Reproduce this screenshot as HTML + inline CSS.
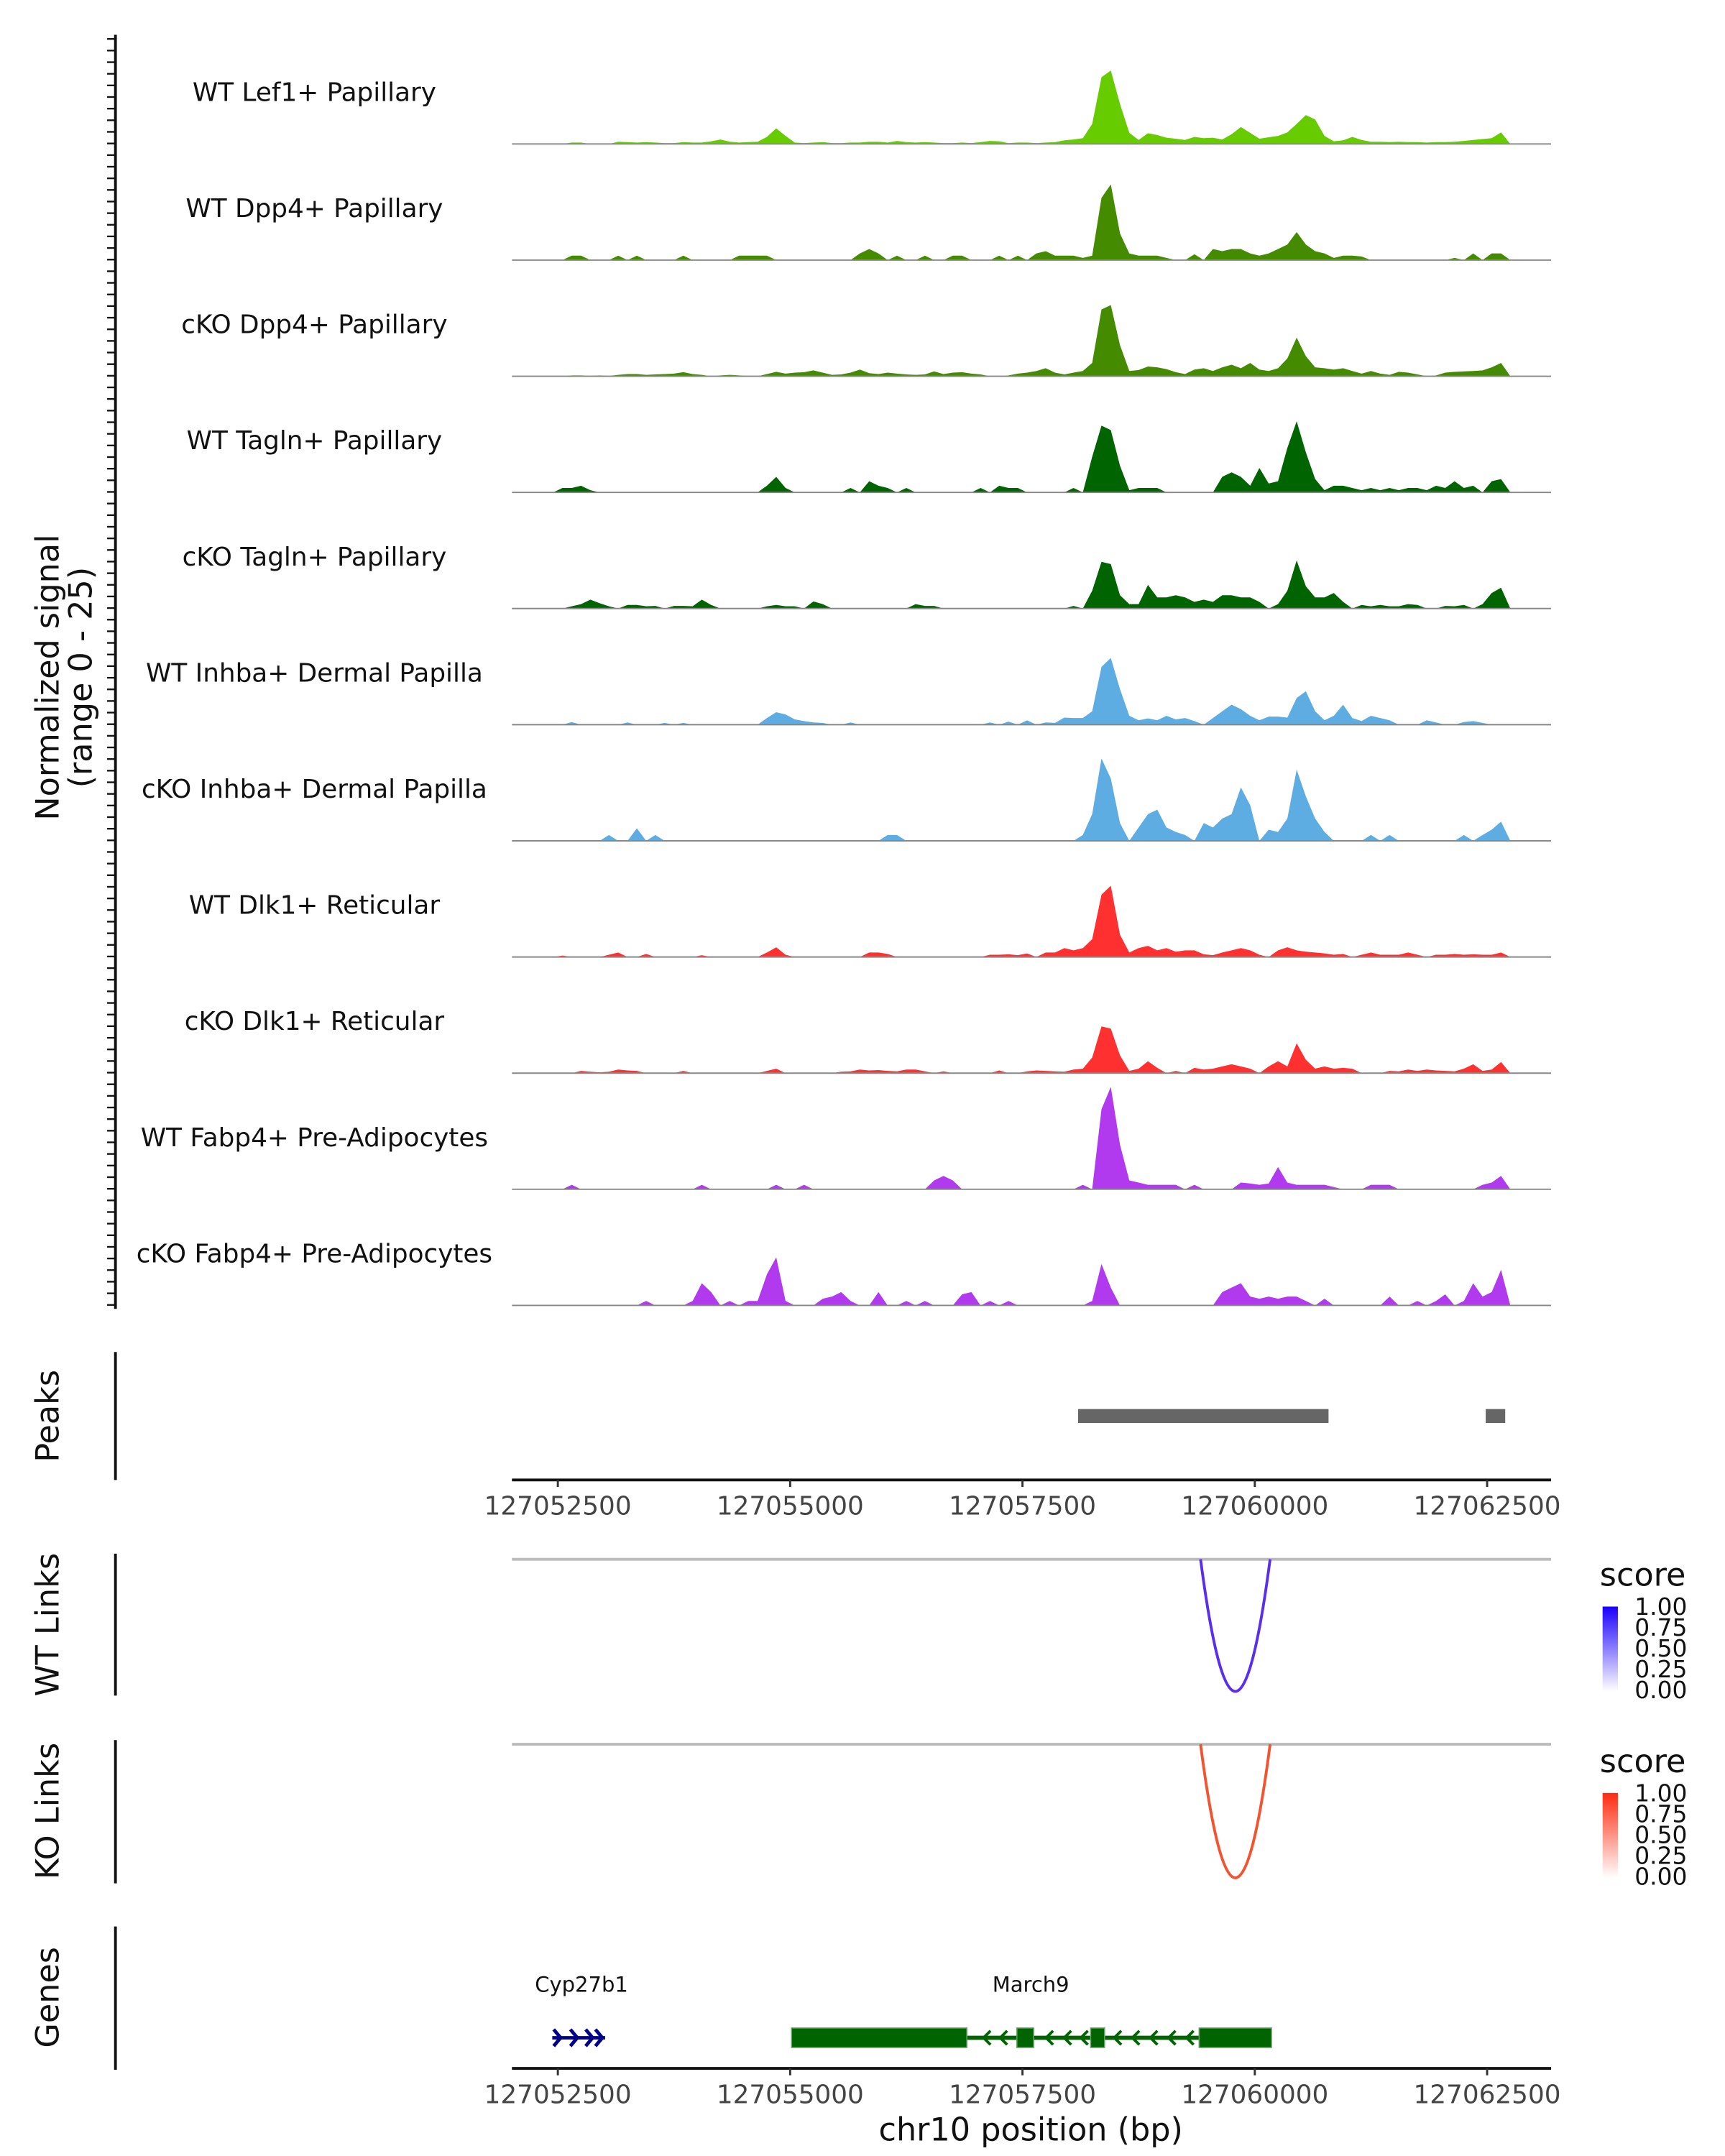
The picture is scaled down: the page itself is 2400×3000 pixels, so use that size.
<!DOCTYPE html>
<html><head><meta charset="utf-8">
<style>
html,body{margin:0;padding:0;background:#fff;}
svg{display:block;font-family:"DejaVu Sans","Liberation Sans",sans-serif;}
</style></head>
<body>
<svg id="chart" width="2400" height="3000" viewBox="0 0 1240 1550" xmlns="http://www.w3.org/2000/svg">
<g id="tracks"></g>
<line x1="83" y1="25" x2="83" y2="941" stroke="#111" stroke-width="2"/>
<g id="yticks"></g>
<text transform="translate(42,487) rotate(-90)" text-anchor="middle" font-size="23" fill="#111">Normalized signal</text>
<text transform="translate(66,487) rotate(-90)" text-anchor="middle" font-size="23" fill="#111">(range 0 - 25)</text>

<!-- Peaks -->
<line x1="83" y1="972" x2="83" y2="1064" stroke="#111" stroke-width="2"/>
<text transform="translate(42,1018) rotate(-90)" text-anchor="middle" font-size="23" fill="#111">Peaks</text>
<rect x="775" y="1013" width="180" height="10" fill="#666"/>
<rect x="1068" y="1013" width="14" height="10" fill="#666"/>
<g id="axis1"></g>

<!-- WT links -->
<line x1="83" y1="1117" x2="83" y2="1219" stroke="#111" stroke-width="2"/>
<text transform="translate(42,1168) rotate(-90)" text-anchor="middle" font-size="23" fill="#111">WT Links</text>
<line x1="368" y1="1121" x2="1115" y2="1121" stroke="#bbb" stroke-width="2"/>
<path d="M863,1121 Q888,1311 913,1121" fill="none" stroke="#5a2ef0" stroke-width="2"/>
<defs>
<linearGradient id="gb" x1="0" y1="1" x2="0" y2="0"><stop offset="0" stop-color="#fff"/><stop offset="1" stop-color="#1a00ff"/></linearGradient>
<linearGradient id="gr" x1="0" y1="1" x2="0" y2="0"><stop offset="0" stop-color="#fff"/><stop offset="1" stop-color="#ff2a10"/></linearGradient>
</defs>
<g>
<text x="1150" y="1140" font-size="23" fill="#111">score</text>
<rect x="1152" y="1155" width="11" height="61" fill="url(#gb)"/>
<text x="1175" y="1161" font-size="17" fill="#111">1.00</text>
<text x="1175" y="1176" font-size="17" fill="#111">0.75</text>
<text x="1175" y="1191" font-size="17" fill="#111">0.50</text>
<text x="1175" y="1206" font-size="17" fill="#111">0.25</text>
<text x="1175" y="1221" font-size="17" fill="#111">0.00</text>
</g>

<!-- KO links -->
<line x1="83" y1="1251" x2="83" y2="1354" stroke="#111" stroke-width="2"/>
<text transform="translate(42,1302) rotate(-90)" text-anchor="middle" font-size="23" fill="#111">KO Links</text>
<line x1="368" y1="1254" x2="1115" y2="1254" stroke="#bbb" stroke-width="2"/>
<path d="M863,1254 Q888,1446 913,1254" fill="none" stroke="#f4532f" stroke-width="2"/>
<g>
<text x="1150" y="1274" font-size="23" fill="#111">score</text>
<rect x="1152" y="1289" width="11" height="61" fill="url(#gr)"/>
<text x="1175" y="1295" font-size="17" fill="#111">1.00</text>
<text x="1175" y="1310" font-size="17" fill="#111">0.75</text>
<text x="1175" y="1325" font-size="17" fill="#111">0.50</text>
<text x="1175" y="1340" font-size="17" fill="#111">0.25</text>
<text x="1175" y="1355" font-size="17" fill="#111">0.00</text>
</g>

<!-- Genes -->
<line x1="83" y1="1385" x2="83" y2="1488" stroke="#111" stroke-width="2"/>
<text transform="translate(42,1436) rotate(-90)" text-anchor="middle" font-size="23" fill="#111">Genes</text>
<text x="418" y="1432" text-anchor="middle" font-size="15" fill="#111">Cyp27b1</text>
<text x="741" y="1432" text-anchor="middle" font-size="15" fill="#111">March9</text>
<g stroke="#00008b" stroke-width="2.5" fill="none">
<line x1="397" y1="1465" x2="435" y2="1465"/>
<path d="M398,1459 L403,1465 L398,1471 M410,1459 L415,1465 L410,1471 M421,1459 L426,1465 L421,1471 M428,1459 L433,1465 L428,1471"/>
</g>
<g>
<line x1="695" y1="1465" x2="862" y2="1465" stroke="#006400" stroke-width="3"/>
<g fill="#006400" stroke="#5fa05f" stroke-width="0.8">
<rect x="569" y="1458" width="126" height="14"/>
<rect x="731" y="1458" width="12" height="14"/>
<rect x="784" y="1458" width="10" height="14"/>
<rect x="862" y="1458" width="52" height="14"/>
</g>
<path d="M712,1460 L707,1465 L712,1470 M724,1460 L719,1465 L724,1470 M757,1460 L752,1465 L757,1470 M770,1460 L765,1465 L770,1470 M782,1460 L777,1465 L782,1470 M806,1460 L801,1465 L806,1470 M819,1460 L814,1465 L819,1470 M832,1460 L827,1465 L832,1470 M845,1460 L840,1465 L845,1470 M858,1460 L853,1465 L858,1470" fill="none" stroke="#006400" stroke-width="2"/>
</g>
<g id="axis2"></g>
<text x="741" y="1539" text-anchor="middle" font-size="23" fill="#111">chr10 position (bp)</text>
</svg>
<script>
const NS='http://www.w3.org/2000/svg';
const trackNames=["WT Lef1+ Papillary","WT Dpp4+ Papillary","cKO Dpp4+ Papillary","WT Tagln+ Papillary","cKO Tagln+ Papillary","WT Inhba+ Dermal Papilla","cKO Inhba+ Dermal Papilla","WT Dlk1+ Reticular","cKO Dlk1+ Reticular","WT Fabp4+ Pre-Adipocytes","cKO Fabp4+ Pre-Adipocytes"];
const trackColors=["#66cc00","#458b00","#458b00","#006400","#006400","#5dade2","#5dade2","#ff3030","#ff3030","#b23aee","#b23aee"];
const binStart=127052400, binSize=100;
const xTicks=[127052500,127055000,127057500,127060000,127062500];
const wtLef1=[0,0,0.3,0.3,0,0,0,0.5,0.4,0.3, 0.4,0.3,0.2,0.2,0.4,0.3,0.3,0.6,1.0,0.5, 0.3,0.4,0.5,1.6,3.5,1.8,0.3,0.2,0.3,0.4, 0.2,0.2,0.3,0.3,0.5,0.5,0.3,0.7,0.4,0.3, 0.4,0.3,0.2,0.2,0.3,0.2,0.4,0.7,0.6,0.2, 0.3,0.3,0.2,0.3,0.4,0.8,1.0,1.3,4.5,15.0, 16.5,9.0,2.5,0.9,2.4,2.0,1.4,1.2,0.9,1.6, 1.3,1.4,1.0,2.2,3.8,2.5,1.2,1.5,1.8,2.6, 4.5,6.5,5.5,1.8,0.6,0.8,1.6,0.9,0.5,0.5, 0.4,0.5,0.4,0.4,0.3,0.4,0.4,0.5,0.7,0.9, 1.1,1.3,2.6,0];
const wtDpp4=[0,0,1,1,0,0,0,1,0,1, 0,0,0,0,1,0,0,0,0,0, 1,1,1,1,0,0,0,0,0,0, 0,0,0,1.5,2.5,1.5,0,1,0,0, 1,0,0,1,1,0,0,0,1,0, 1,0,1.5,2,1,1,1,0.5,1,14, 17,6,1.5,1,1,1,0.5,0,0,1.3, 0,2.5,2,2.5,2.5,1.5,1,1.5,2.5,3.5, 6.3,3.5,2,1.5,0.5,1,1,0.8,0,0, 0,0,0,0,0,0,0,0.5,0,1.5, 0,1.5,1.5,0];
const koDpp4=[0,0,0.2,0.2,0.1,0.2,0.1,0.3,0.5,0.5, 0.3,0.4,0.5,0.6,0.9,0.5,0.3,0,0.2,0.3, 0.2,0.1,0,0.5,1,0.6,0.8,0.9,1.3,0.8, 0.3,0.4,0.8,1.5,0.7,0.5,0.8,0.6,0.4,0.3, 0.4,1.1,0.5,0.8,0.9,0.6,0.4,0,0,0.2, 0.6,0.8,1.2,1.8,0.8,0.4,0.8,1.2,3,15, 16,7,1.2,1.4,2.2,2,1.6,0.9,0.5,1.5, 1.8,1.2,2,2.6,1.8,3,1.5,1.2,1.8,4, 8.7,4.5,2,1.8,1.5,1.8,1.2,0.6,1.2,0.6, 0.3,1,0.8,0.4,0,0.2,0.8,1,1.1,1.2, 1.3,2,3,0];
const wtTagln=[0,1,1,1.5,0.5,0,0,0,0,0, 0,0,0,0,0,0,0,0,0,0, 0,0,0,1.5,3.5,1,0,0,0,0, 0,0,1,0,2.5,1.5,1,0,1,0, 0,0,0,0,0,0,1,0,1.5,1, 1,0,0,0,0,0,1,0,8,15, 14,6,0.5,1,1,1,0,0,0,0, 0,0,3.5,4.5,3.5,1.5,5.5,2,2.5,10, 16,9,3,0.5,1.5,1.5,1,0.5,1,0.5, 1,0.5,1,1,0.5,1.5,1,2.5,1,1.5, 0,2.5,3,0];
const koTagln=[0,0,0.5,1,2,1.2,0.5,0,0.8,0.8, 0.5,0.6,0,0.6,0.6,0.5,2,0.8,0,0, 0,0,0,0.5,0.8,0.5,0.5,0,1.6,1, 0,0,0,0,0,0,0,0,0,1, 0.6,0.6,0,0,0,0,0,0,0,0, 0,0,0,0,0,0,0.6,0,4,10.5, 10,3,1,1,5.3,2.5,2.5,3,2.5,1.5, 2,1.5,3,3,2.5,2.5,1.5,0,1,4, 10.8,5,2.5,2.5,3.5,1.5,0,0.8,0.5,0.8, 0.5,0.5,1,0.8,0,0,0.6,0.5,0.8,0, 1,3.5,4.7,0];
const wtInhba=[0,0,0.6,0,0,0,0,0,0.5,0, 0,0,0.4,0,0.4,0,0,0,0,0, 0,0,0,1.5,2.8,2.3,1.2,0.8,0.5,0.4, 0,0,0.5,0,0,0,0,0,0,0, 0,0,0,0,0,0,0,0.5,0,0.7, 0,1,0,0.5,0.4,1.6,1.5,1.5,3,13, 15,8,2,1,1.4,1,2,1.2,1.5,0.8, 0,1.5,3,4.5,3.5,2,1,1.8,1.8,1.6, 6,7.5,3,1,2,4.5,1.5,0.8,2,1.5, 1,0,0,0,1,0.5,0,0,0.6,0.8, 0.4,0,0,0];
const koInhba=[0,0,0,0,0,0,1.3,0,0,2.8, 0,1.3,0,0,0,0,0,0,0,0, 0,0,0,0,0,0,0,0,0,0, 0,0,0,0,0,0,1.3,1.3,0,0, 0,0,0,0,0,0,0,0,0,0, 0,0,0,0,0,0,0,1.3,6,18.5, 14,4,0,3,6,7,3,2,1.3,0, 4,3,5,6,12,8,0,2.5,2,5, 16,10,5,2,0,0,0,0,1.3,0, 1.3,0,0,0,0,0,0,0,1.3,0, 1.3,2.5,4.3,0];
const wtDlk1=[0,0.3,0,0,0,0,0.5,1,0,0, 0.7,0,0,0,0,0,0.4,0,0,0, 0,0,0,1,2.2,0.5,0,0,0,0, 0,0,0,0,1,1,0.7,0,0,0, 0,0,0,0,0,0,0,0.5,0.5,0.6, 0.4,0.8,0,1,1,2,1.5,2,4,14, 16,5,1,2,2.5,1.5,2,1.2,1.5,1.5, 0.6,0.4,1,1.5,2,1.5,0.5,0,1.5,2.2, 1.5,1.2,1,0.8,0.5,0.7,0,0.5,1,0.5, 0.5,0.5,1,0.5,0,0.5,0.5,0.7,0.5,0.6, 0.5,0.5,1,0];
const koDlk1=[0,0,0,0.5,0.3,0.2,0.3,0.8,0.6,0.5, 0,0,0,0,0.5,0,0,0,0,0, 0,0,0,0.5,1,0,0,0,0,0, 0,0.3,0.4,0.8,0.6,0.7,0.5,0.4,0.8,0.8, 0.4,0,0.4,0,0,0,0,0,0.6,0, 0,0.4,0.6,0.5,0.4,0.3,0.8,1,3.5,10.5, 10,4,0.5,1,2.7,1.2,0,0.5,0,1.2, 0.8,1,1.5,2,1.5,1,0,1.5,2.7,1.5, 6.7,3,1,1.5,1,1.2,1,0,0,0, 0.5,0.4,0.8,0.5,0.8,0.6,0.5,0.4,1,2, 0.5,0.8,2.5,0];
const wtFabp4=[0,0,1,0,0,0,0,0,0,0, 0,0,0,0,0,0,1,0,0,0, 0,0,0,0,1,0,0,1,0,0, 0,0,0,0,0,0,0,0,0,0, 0,2,3,2,0,0,0,0,0,0, 0,0,0,0,0,0,0,1,0,18, 23,10,2,1.5,1,1,1,1,0,1, 0,0,0,0,1.5,1.3,1,1.3,5,1.5, 1,1,1,1,0.5,0,0,0,1,1, 1,0,0,0,0,0,0,0,0,0, 1,1.5,3,0];
const koFabp4=[0,0,0,0,0,0,0,0,0,0, 1,0,0,0,0,1,5,3,0,1, 0,1,1,7,10.8,1,0,0,0,1.5, 2,3,1,0,0,3,0,0,1,0, 1,0,0,0,2.5,3,0,1,0,1, 0,0,0,0,0,0,0,0,1,9.3, 4,0,0,0,0,0,0,0,0,0, 0,0,3,4,5,2,1.5,2,1.5,2, 2,1,0,1.5,0,0,0,0,0,0, 2,0,0,1,0,1,2.5,0,1,5, 2,3,8,0];
const trackValues=[wtLef1,wtDpp4,koDpp4,wtTagln,koTagln,wtInhba,koInhba,wtDlk1,koDlk1,wtFabp4,koFabp4];

function xs(bp){return 401+(bp-127052500)*167/2500;}
const trackTop=20, trackH=83.5, unitPx=3.2;
function baseY(t){return trackTop+trackH*(t+1);}
function ys(t,v){return baseY(t)-Math.min(v,25)*unitPx;}

const tg=document.getElementById('tracks');
for(let t=0;t<trackValues.length;t++){
  const vals=trackValues[t], b=baseY(t);
  const g=document.createElementNS(NS,'g');
  
  
  let d='M'+xs(binStart).toFixed(1)+','+b;
  for(let i=0;i<vals.length;i++){
    const cx=xs(binStart+binSize*i+binSize/2);
    d+=' L'+cx.toFixed(1)+','+ys(t,vals[i]).toFixed(1);
  }
  d+=' L'+xs(binStart+binSize*vals.length).toFixed(1)+','+b+' Z';
  const p=document.createElementNS(NS,'path');
  p.setAttribute('d',d);p.setAttribute('fill',trackColors[t]);
  
  
  g.appendChild(p);
  const ln=document.createElementNS(NS,'line');
  ln.setAttribute('x1',368);ln.setAttribute('x2',1115);ln.setAttribute('y1',b);ln.setAttribute('y2',b);
  ln.setAttribute('stroke','#888');ln.setAttribute('stroke-width','1');
  
  
  g.appendChild(ln);
  const tx=document.createElementNS(NS,'text');
  tx.setAttribute('x',226);tx.setAttribute('y',b-31);tx.setAttribute('text-anchor','middle');
  tx.setAttribute('font-size','18.5');tx.setAttribute('fill','#111');
  
  
  tx.textContent=trackNames[t];
  g.appendChild(tx);
  tg.appendChild(g);
}
const yt=document.getElementById('yticks');
for(let y=28;y<=940;y+=8.35){
  const l=document.createElementNS(NS,'line');
  l.setAttribute('x1',77);l.setAttribute('x2',83);l.setAttribute('y1',y);l.setAttribute('y2',y);
  l.setAttribute('stroke','#111');l.setAttribute('stroke-width','1.2');
  
  
  yt.appendChild(l);
}
function drawAxis(id,y){
  const g=document.getElementById(id);
  const l=document.createElementNS(NS,'line');
  l.setAttribute('x1',368);l.setAttribute('x2',1115);l.setAttribute('y1',y);l.setAttribute('y2',y);
  l.setAttribute('stroke','#111');l.setAttribute('stroke-width','2');
  
  
  g.appendChild(l);
  for(const v of xTicks){
    const tk=document.createElementNS(NS,'line');
    tk.setAttribute('x1',xs(v));tk.setAttribute('x2',xs(v));tk.setAttribute('y1',y);tk.setAttribute('y2',y+5);
    tk.setAttribute('stroke','#333');tk.setAttribute('stroke-width','1.5');
    
    
    g.appendChild(tk);
    const tx=document.createElementNS(NS,'text');
    tx.setAttribute('x',xs(v));tx.setAttribute('y',y+25);tx.setAttribute('text-anchor','middle');
    tx.setAttribute('font-size','18.5');tx.setAttribute('fill','#444');
    
    
    tx.textContent=v;
    g.appendChild(tx);
  }
}
drawAxis('axis1',1064);
drawAxis('axis2',1487);
</script>
</body></html>
